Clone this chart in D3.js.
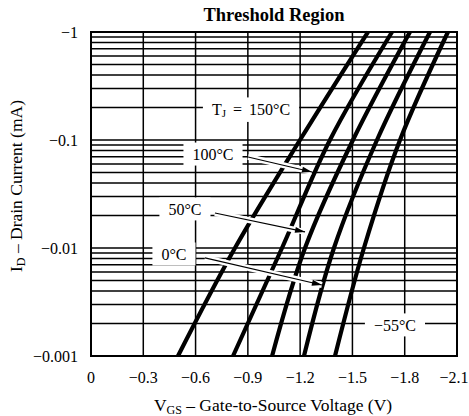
<!DOCTYPE html>
<html>
<head>
<meta charset="utf-8">
<script src="https://cdn.jsdelivr.net/npm/d3@7"></script>
<style>
  body { margin: 0; background: #fff; }
  text { font-family: "Liberation Serif", "DejaVu Serif", serif; fill: #000; }
</style>
</head>
<body>
<div id="chart"></div>
<script>
var svgWidth = 469;
var svgHeight = 416;

// axis ticks
var xTicks = [0, -0.3, -0.6, -0.9, -1.2, -1.5, -1.8, -2.1];
var xTickLabels = ["0", "\u22120.3", "\u22120.6", "\u22120.9", "\u22121.2", "\u22121.5", "\u22121.8", "\u22122.1"];
var yTicks = [-0.001, -0.01, -0.1, -1];
var yTickLabels = ["\u22120.001", "\u22120.01", "\u22120.1", "\u22121"];

// curves: gate voltage (V) at each drain current (mA), one array per temperature
var iPts = [-0.001, -0.01, -0.1, -1];
var v150 = [-0.499, -0.826, -1.199, -1.589];
var v100 = [-0.815, -1.096, -1.371, -1.727];
var v50 = [-1.039, -1.228, -1.503, -1.830];
var v0 = [-1.222, -1.394, -1.641, -1.945];
var vm55 = [-1.400, -1.566, -1.773, -2.048];

var curves = [v150, v100, v50, v0, vm55];

// labels in data units, arrows from/to
var labels = [
  { text: "T", sub: "J", rest: " = 150\u00b0C", v: -0.918, i: -0.194, arrow: null },
  { text: "100\u00b0C", v: -0.700, i: -0.0741, arrow: [[-0.901, -0.0697], [-1.268, -0.0506]] },
  { text: "50\u00b0C", v: -0.539, i: -0.0230, arrow: [[-0.711, -0.0211], [-1.228, -0.0141]] },
  { text: "0\u00b0C", v: -0.476, i: -0.0088, arrow: [[-0.654, -0.0081], [-1.325, -0.00454]] },
  { text: "\u221255\u00b0C", v: -1.744, i: -0.00194, arrow: null }
];

var svg = d3.select("#chart")
  .append("svg")
  .attr("width", svgWidth)
  .attr("height", svgHeight);

// scales
var xScale = d3.scaleLinear()
  .domain([0, -2.1])
  .range([91, 457]);
var yScale = d3.scaleLog()
  .domain([0.001, 1])
  .range([356, 32]);
function yPos(i) { return yScale(Math.abs(i)); }

// horizontal grid, every minor decade step
var gridI = [];
[0.001, 0.01, 0.1].forEach(function(d) {
  for (var k = 1; k < 10; k++) gridI.push(k * d);
});
gridI.push(1);

svg.append("g").selectAll("line")
  .data(gridI)
  .enter()
  .append("line")
  .attr("x1", xScale(0))
  .attr("x2", xScale(-2.1))
  .attr("y1", function(d) { return yScale(d); })
  .attr("y2", function(d) { return yScale(d); })
  .attr("stroke", "#000")
  .attr("stroke-width", 1.5);

// vertical grid
svg.append("g").selectAll("line")
  .data(xTicks)
  .enter()
  .append("line")
  .attr("x1", function(d) { return xScale(d); })
  .attr("x2", function(d) { return xScale(d); })
  .attr("y1", yScale(1))
  .attr("y2", yScale(0.001))
  .attr("stroke", "#000")
  .attr("stroke-width", 1.5);

// frame
svg.append("rect")
  .attr("x", xScale(0))
  .attr("y", yScale(1))
  .attr("width", xScale(-2.1) - xScale(0))
  .attr("height", yScale(0.001) - yScale(1))
  .attr("fill", "none")
  .attr("stroke", "#000")
  .attr("stroke-width", 2);

// curves
var line = d3.line()
  .x(function(d) { return xScale(d[0]); })
  .y(function(d) { return yPos(d[1]); })
  .curve(d3.curveMonotoneY);

svg.append("g").selectAll("path")
  .data(curves)
  .enter()
  .append("path")
  .attr("d", function(c) {
    return line(c.map(function(v, k) { return [v, iPts[k]]; }));
  })
  .attr("fill", "none")
  .attr("stroke", "#000")
  .attr("stroke-width", 4.2);

// arrows, white halo cuts the curves like the printed chart
var arrows = labels.filter(function(d) { return d.arrow; });
svg.append("g").selectAll("line")
  .data(arrows)
  .enter()
  .append("line")
  .attr("x1", function(d) { return xScale(d.arrow[0][0]); })
  .attr("y1", function(d) { return yPos(d.arrow[0][1]); })
  .attr("x2", function(d) { return xScale(d.arrow[1][0]); })
  .attr("y2", function(d) { return yPos(d.arrow[1][1]); })
  .attr("stroke", "#fff")
  .attr("stroke-width", 6);

svg.append("g").selectAll("line")
  .data(arrows)
  .enter()
  .append("line")
  .attr("x1", function(d) { return xScale(d.arrow[0][0]); })
  .attr("y1", function(d) { return yPos(d.arrow[0][1]); })
  .attr("x2", function(d) { return xScale(d.arrow[1][0]); })
  .attr("y2", function(d) { return yPos(d.arrow[1][1]); })
  .attr("stroke", "#000")
  .attr("stroke-width", 1.1);

svg.append("g").selectAll("path")
  .data(arrows)
  .enter()
  .append("path")
  .attr("d", function(d) {
    var x1 = xScale(d.arrow[0][0]), y1 = yPos(d.arrow[0][1]);
    var x2 = xScale(d.arrow[1][0]), y2 = yPos(d.arrow[1][1]);
    var a = Math.atan2(y2 - y1, x2 - x1);
    var len = 10, w = 3;
    var bx = x2 - len * Math.cos(a), by = y2 - len * Math.sin(a);
    return "M" + x2 + "," + y2 +
      "L" + (bx - w * Math.sin(a)) + "," + (by + w * Math.cos(a)) +
      "L" + (bx + w * Math.sin(a)) + "," + (by - w * Math.cos(a)) + "Z";
  })
  .attr("fill", "#000");

// label boxes and texts
labels.forEach(function(d) {
  var g = svg.append("g");
  var box = g.append("rect").attr("fill", "#fff");
  var t = g.append("text")
    .attr("x", xScale(d.v))
    .attr("y", yPos(d.i))
    .attr("text-anchor", "middle")
    .attr("dominant-baseline", "central")
    .style("font-size", "16px");
  t.append("tspan").text(d.text);
  if (d.sub) {
    t.append("tspan").attr("dy", 4).style("font-size", "11px").text(d.sub);
    t.append("tspan").attr("dy", -4).style("word-spacing", "3px").text(d.rest);
  }
  var bb = t.node().getBBox();
  box.attr("x", bb.x - 9)
    .attr("y", bb.y - 3)
    .attr("width", bb.width + 18)
    .attr("height", bb.height + 6);
});

// tick labels
svg.append("g").selectAll("text")
  .data(xTicks)
  .enter()
  .append("text")
  .attr("x", function(d) { return Math.min(xScale(d), svgWidth - 15); })
  .attr("y", 383)
  .attr("text-anchor", "middle")
  .style("font-size", "16px")
  .text(function(d, k) { return xTickLabels[k]; });

svg.append("g").selectAll("text")
  .data(yTicks)
  .enter()
  .append("text")
  .attr("x", 78)
  .attr("y", function(d) { return yPos(d); })
  .attr("text-anchor", "end")
  .attr("dominant-baseline", "central")
  .style("font-size", "16px")
  .text(function(d, k) { return yTickLabels[k]; });

// title
svg.append("text")
  .attr("x", (xScale(0) + xScale(-2.1)) / 2)
  .attr("y", 21)
  .attr("text-anchor", "middle")
  .style("font-size", "18.5px")
  .style("font-weight", "bold")
  .text("Threshold Region");

// axis titles
var xt = svg.append("text")
  .attr("x", 273)
  .attr("y", 411)
  .attr("text-anchor", "middle")
  .style("font-size", "17.5px");
xt.append("tspan").text("V");
xt.append("tspan").attr("dy", 3).style("font-size", "12px").text("GS");
xt.append("tspan").attr("dy", -3).text(" \u2013 Gate-to-Source Voltage (V)");

var yt = svg.append("text")
  .attr("transform", "translate(22,186) rotate(-90)")
  .attr("text-anchor", "middle")
  .style("font-size", "17.5px");
yt.append("tspan").text("I");
yt.append("tspan").attr("dy", 3).style("font-size", "12px").text("D");
yt.append("tspan").attr("dy", -3).text(" \u2013 Drain Current (mA)");
</script>
</body>
</html>
